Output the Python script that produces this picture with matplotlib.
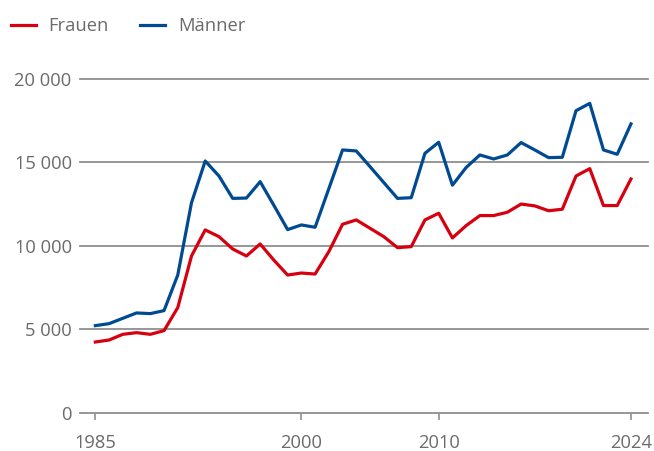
import matplotlib.pyplot as plt

plt.rcParams['font.family'] = ['Open Sans', 'DejaVu Sans']

years = list(range(1985, 2025))

frauen = [4250, 4370, 4710, 4810, 4710, 4930, 6310, 9400, 10960, 10560,
          9820, 9400, 10120, 9150, 8260, 8380, 8320, 9660, 11300, 11560,
          11060, 10560, 9900, 9960, 11560, 11960, 10480, 11220, 11820, 11820,
          12020, 12510, 12400, 12110, 12200, 14190, 14630, 12420, 12420, 14010]

maenner = [5230, 5350, 5670, 5990, 5950, 6130, 8260, 12590, 15090, 14190,
           12850, 12870, 13850, 12430, 10980, 11260, 11120, 13430, 15750, 15690,
           14750, 13800, 12850, 12890, 15550, 16210, 13640, 14700, 15450, 15210,
           15450, 16190, 15750, 15290, 15310, 18100, 18540, 15750, 15490, 17310]

xticks = [1985, 2000, 2010, 2024]
yticks = [0, 5000, 10000, 15000, 20000]

red = '#d7000f'
blue = '#004a91'
grey = '#6b6b6b'
gridc = '#8f8f8f'
fs = 13.2

fig = plt.figure(figsize=(6.54, 4.51), dpi=100)
ax = fig.add_axes([0.1223, 0.0843, 0.8685, 0.7406])

for y in yticks:
    ax.axhline(y, color=gridc, lw=1.3, zorder=1, clip_on=False)

ax.plot(years, frauen, color=red, lw=2.3, label='Frauen', zorder=3)
ax.plot(years, maenner, color=blue, lw=2.3, label='Männer', zorder=3)

ax.set_xlim(1983.88, 2025.24)
ax.set_ylim(0, 20000)

for s in ax.spines.values():
    s.set_visible(False)

ax.set_xticks(xticks)
ax.set_yticks(yticks)
ax.set_yticklabels([f'{v:,}'.replace(',', ' ') for v in yticks])
ax.tick_params(axis='y', length=0, pad=6, labelsize=fs, labelcolor=grey)
ax.tick_params(axis='x', length=5, width=1.2, color=gridc, pad=10,
               labelsize=fs, labelcolor=grey)

fig.legend(loc='upper left', bbox_to_anchor=(0.003, 0.982), ncol=2, frameon=False,
           fontsize=fs, labelcolor=grey, handlelength=1.35, handletextpad=0.7,
           columnspacing=1.7, borderaxespad=0.1)

fig.savefig('out.png', dpi=100)
